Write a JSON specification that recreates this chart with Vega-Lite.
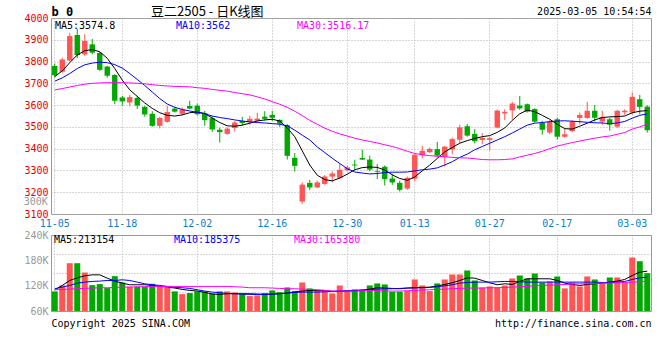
{
"$schema": "https://vega.github.io/schema/vega-lite/v6.json",
"background": "#ffffff",
"padding": {"left": 23, "top": 4, "right": 0, "bottom": 0},
"bounds": "flush",
"spacing": 21,
"datasets": {"k": [
{"d":"11-05","o":3780,"h":3790,"l":3726,"c":3737,"m5":3731,"m10":3710,"m30":3670,"v":106400,"v5":110300,"v10":112700,"v30":110300},
{"d":"11-06","o":3753,"h":3818,"l":3748,"c":3810,"m5":3757,"m10":3725,"m30":3676,"v":120500,"v5":120500,"v10":116600,"v30":111100},
{"d":"11-07","o":3805,"h":3932,"l":3800,"c":3917,"m5":3795,"m10":3745,"m30":3683,"v":173200,"v5":132300,"v10":120500,"v30":111900},
{"d":"11-08","o":3922,"h":3950,"l":3815,"c":3830,"m5":3830,"m10":3768,"m30":3690,"v":173200,"v5":138600,"v10":126000,"v30":112700},
{"d":"11-11","o":3833,"h":3925,"l":3826,"c":3895,"m5":3850,"m10":3785,"m30":3696,"v":151200,"v5":143300,"v10":128400,"v30":113500},
{"d":"11-12","o":3879,"h":3904,"l":3834,"c":3841,"m5":3855,"m10":3793,"m30":3700,"v":121300,"v5":145700,"v10":130000,"v30":114300},
{"d":"11-13","o":3840,"h":3845,"l":3757,"c":3762,"m5":3845,"m10":3797,"m30":3702,"v":123700,"v5":145700,"v10":130800,"v30":115100},
{"d":"11-14","o":3777,"h":3780,"l":3726,"c":3735,"m5":3815,"m10":3795,"m30":3703,"v":114300,"v5":137800,"v10":132300,"v30":115100},
{"d":"11-15","o":3738,"h":3742,"l":3604,"c":3620,"m5":3768,"m10":3786,"m30":3703,"v":142500,"v5":130800,"v10":132300,"v30":115800},
{"d":"11-18","o":3635,"h":3642,"l":3598,"c":3617,"m5":3715,"m10":3770,"m30":3703,"v":127600,"v5":126000,"v10":133900,"v30":116600},
{"d":"11-19","o":3612,"h":3647,"l":3595,"c":3637,"m5":3670,"m10":3745,"m30":3702,"v":117400,"v5":122100,"v10":132300,"v30":116600},
{"d":"11-20","o":3633,"h":3642,"l":3582,"c":3598,"m5":3640,"m10":3718,"m30":3700,"v":117400,"v5":122100,"v10":128400,"v30":117400},
{"d":"11-21","o":3592,"h":3596,"l":3547,"c":3557,"m5":3610,"m10":3690,"m30":3698,"v":117400,"v5":122100,"v10":124500,"v30":117400},
{"d":"11-22","o":3560,"h":3572,"l":3500,"c":3505,"m5":3585,"m10":3660,"m30":3694,"v":124500,"v5":120500,"v10":122100,"v30":118200},
{"d":"11-25","o":3505,"h":3546,"l":3493,"c":3541,"m5":3565,"m10":3630,"m30":3690,"v":117400,"v5":118200,"v10":120500,"v30":118200},
{"d":"11-26","o":3523,"h":3597,"l":3519,"c":3568,"m5":3553,"m10":3605,"m30":3688,"v":115100,"v5":116600,"v10":118200,"v30":118200},
{"d":"11-27","o":3584,"h":3592,"l":3566,"c":3570,"m5":3550,"m10":3590,"m30":3686,"v":106400,"v5":114300,"v10":115800,"v30":118200},
{"d":"11-28","o":3560,"h":3589,"l":3553,"c":3580,"m5":3555,"m10":3580,"m30":3685,"v":100100,"v5":111100,"v10":115100,"v30":118200},
{"d":"11-29","o":3596,"h":3620,"l":3581,"c":3584,"m5":3565,"m10":3573,"m30":3684,"v":102500,"v5":108800,"v10":113500,"v30":118200},
{"d":"12-02","o":3597,"h":3607,"l":3553,"c":3558,"m5":3568,"m10":3567,"m30":3680,"v":106400,"v5":107200,"v10":110300,"v30":118200},
{"d":"12-03","o":3563,"h":3574,"l":3505,"c":3531,"m5":3562,"m10":3560,"m30":3677,"v":106400,"v5":104100,"v10":107200,"v30":118200},
{"d":"12-04","o":3540,"h":3550,"l":3477,"c":3488,"m5":3540,"m10":3550,"m30":3672,"v":101700,"v5":100100,"v10":104800,"v30":118200},
{"d":"12-05","o":3487,"h":3496,"l":3428,"c":3476,"m5":3520,"m10":3543,"m30":3668,"v":106400,"v5":99300,"v10":103300,"v30":118200},
{"d":"12-06","o":3468,"h":3497,"l":3464,"c":3492,"m5":3505,"m10":3538,"m30":3664,"v":106400,"v5":100900,"v10":101700,"v30":118200},
{"d":"12-09","o":3495,"h":3527,"l":3478,"c":3520,"m5":3503,"m10":3532,"m30":3658,"v":104100,"v5":100900,"v10":100900,"v30":117400},
{"d":"12-10","o":3527,"h":3546,"l":3506,"c":3518,"m5":3508,"m10":3527,"m30":3652,"v":100900,"v5":100900,"v10":100100,"v30":116600},
{"d":"12-11","o":3522,"h":3551,"l":3510,"c":3537,"m5":3517,"m10":3523,"m30":3647,"v":95400,"v5":100900,"v10":99300,"v30":115100},
{"d":"12-12","o":3528,"h":3565,"l":3524,"c":3538,"m5":3527,"m10":3520,"m30":3638,"v":97000,"v5":100100,"v10":99300,"v30":115100},
{"d":"12-13","o":3547,"h":3572,"l":3528,"c":3537,"m5":3532,"m10":3518,"m30":3628,"v":102500,"v5":99300,"v10":99300,"v30":115100},
{"d":"12-16","o":3555,"h":3574,"l":3527,"c":3542,"m5":3535,"m10":3515,"m30":3616,"v":108800,"v5":100100,"v10":100100,"v30":114300},
{"d":"12-17","o":3532,"h":3535,"l":3500,"c":3515,"m5":3527,"m10":3512,"m30":3604,"v":104800,"v5":100900,"v10":100900,"v30":113500},
{"d":"12-18","o":3508,"h":3513,"l":3350,"c":3367,"m5":3495,"m10":3505,"m30":3590,"v":115800,"v5":102500,"v10":102500,"v30":112700},
{"d":"12-19","o":3358,"h":3380,"l":3295,"c":3321,"m5":3455,"m10":3485,"m30":3572,"v":107200,"v5":104800,"v10":104100,"v30":112700},
{"d":"12-20","o":3157,"h":3245,"l":3147,"c":3235,"m5":3390,"m10":3462,"m30":3552,"v":127600,"v5":107200,"v10":104800,"v30":111900},
{"d":"12-23","o":3243,"h":3256,"l":3210,"c":3222,"m5":3325,"m10":3440,"m30":3530,"v":113500,"v5":108800,"v10":104800,"v30":111100},
{"d":"12-24","o":3222,"h":3253,"l":3218,"c":3245,"m5":3278,"m10":3408,"m30":3512,"v":108000,"v5":108800,"v10":104800,"v30":110300},
{"d":"12-25","o":3238,"h":3279,"l":3234,"c":3272,"m5":3258,"m10":3382,"m30":3494,"v":108000,"v5":108800,"v10":105600,"v30":108800},
{"d":"12-26","o":3272,"h":3296,"l":3245,"c":3286,"m5":3252,"m10":3356,"m30":3480,"v":101700,"v5":106400,"v10":106400,"v30":107200},
{"d":"12-27","o":3266,"h":3330,"l":3260,"c":3303,"m5":3265,"m10":3332,"m30":3468,"v":120500,"v5":106400,"v10":107200,"v30":107200},
{"d":"12-30","o":3301,"h":3322,"l":3296,"c":3314,"m5":3283,"m10":3308,"m30":3458,"v":107200,"v5":107200,"v10":108000,"v30":107200},
{"d":"12-31","o":3327,"h":3349,"l":3302,"c":3323,"m5":3303,"m10":3293,"m30":3448,"v":111100,"v5":108000,"v10":108800,"v30":107200},
{"d":"01-02","o":3357,"h":3395,"l":3348,"c":3350,"m5":3313,"m10":3288,"m30":3440,"v":111100,"v5":108800,"v10":109600,"v30":108000},
{"d":"01-03","o":3350,"h":3368,"l":3296,"c":3304,"m5":3316,"m10":3284,"m30":3433,"v":120500,"v5":111900,"v10":110300,"v30":108800},
{"d":"01-06","o":3297,"h":3329,"l":3260,"c":3294,"m5":3314,"m10":3286,"m30":3426,"v":125300,"v5":115100,"v10":111900,"v30":108800},
{"d":"01-07","o":3317,"h":3323,"l":3231,"c":3260,"m5":3302,"m10":3290,"m30":3418,"v":122900,"v5":114300,"v10":112700,"v30":107200},
{"d":"01-08","o":3263,"h":3285,"l":3234,"c":3245,"m5":3280,"m10":3292,"m30":3410,"v":105600,"v5":113500,"v10":112700,"v30":107200},
{"d":"01-09","o":3243,"h":3253,"l":3203,"c":3211,"m5":3263,"m10":3292,"m30":3400,"v":105600,"v5":112700,"v10":113500,"v30":107200},
{"d":"01-10","o":3217,"h":3272,"l":3211,"c":3266,"m5":3255,"m10":3293,"m30":3388,"v":107200,"v5":114300,"v10":114300,"v30":108000},
{"d":"01-13","o":3262,"h":3378,"l":3252,"c":3372,"m5":3270,"m10":3298,"m30":3378,"v":134700,"v5":115100,"v10":115100,"v30":108800},
{"d":"01-14","o":3370,"h":3413,"l":3355,"c":3390,"m5":3298,"m10":3303,"m30":3372,"v":120500,"v5":115800,"v10":115100,"v30":109600},
{"d":"01-15","o":3384,"h":3405,"l":3380,"c":3399,"m5":3325,"m10":3306,"m30":3368,"v":107200,"v5":116600,"v10":115800,"v30":110300},
{"d":"01-16","o":3398,"h":3431,"l":3360,"c":3368,"m5":3355,"m10":3312,"m30":3365,"v":125300,"v5":119000,"v10":117400,"v30":111100},
{"d":"01-17","o":3362,"h":3412,"l":3318,"c":3409,"m5":3385,"m10":3325,"m30":3363,"v":134700,"v5":122900,"v10":119800,"v30":111900},
{"d":"01-20","o":3397,"h":3451,"l":3374,"c":3444,"m5":3405,"m10":3340,"m30":3360,"v":146500,"v5":126800,"v10":122100,"v30":112700},
{"d":"01-21","o":3441,"h":3510,"l":3425,"c":3498,"m5":3425,"m10":3360,"m30":3358,"v":146500,"v5":132300,"v10":126000,"v30":113500},
{"d":"01-22","o":3503,"h":3513,"l":3455,"c":3460,"m5":3437,"m10":3375,"m30":3357,"v":155900,"v5":138600,"v10":127600,"v30":114300},
{"d":"01-23","o":3468,"h":3490,"l":3424,"c":3434,"m5":3447,"m10":3395,"m30":3354,"v":132300,"v5":137800,"v10":128400,"v30":114300},
{"d":"01-24","o":3440,"h":3472,"l":3420,"c":3449,"m5":3455,"m10":3410,"m30":3350,"v":115800,"v5":132300,"v10":128400,"v30":114300},
{"d":"01-27","o":3440,"h":3453,"l":3392,"c":3448,"m5":3460,"m10":3425,"m30":3349,"v":118200,"v5":126800,"v10":128400,"v30":115100},
{"d":"02-05","o":3497,"h":3580,"l":3494,"c":3575,"m5":3475,"m10":3440,"m30":3349,"v":115800,"v5":122100,"v10":129200,"v30":115100},
{"d":"02-06","o":3562,"h":3581,"l":3531,"c":3569,"m5":3495,"m10":3455,"m30":3350,"v":120500,"v5":124500,"v10":130000,"v30":115800},
{"d":"02-07","o":3576,"h":3616,"l":3533,"c":3607,"m5":3530,"m10":3472,"m30":3353,"v":137000,"v5":122900,"v10":130000,"v30":116600},
{"d":"02-10","o":3598,"h":3642,"l":3578,"c":3585,"m5":3560,"m10":3490,"m30":3362,"v":144100,"v5":130000,"v10":129200,"v30":117400},
{"d":"02-11","o":3604,"h":3607,"l":3566,"c":3570,"m5":3577,"m10":3508,"m30":3370,"v":137000,"v5":136300,"v10":128400,"v30":118200},
{"d":"02-12","o":3582,"h":3586,"l":3520,"c":3524,"m5":3570,"m10":3517,"m30":3378,"v":148800,"v5":136300,"v10":128400,"v30":119800},
{"d":"02-13","o":3518,"h":3528,"l":3464,"c":3487,"m5":3553,"m10":3520,"m30":3388,"v":127600,"v5":136300,"v10":128400,"v30":120500},
{"d":"02-14","o":3474,"h":3531,"l":3467,"c":3524,"m5":3535,"m10":3524,"m30":3400,"v":130000,"v5":136300,"v10":128400,"v30":121300},
{"d":"02-17","o":3535,"h":3542,"l":3442,"c":3455,"m5":3512,"m10":3527,"m30":3412,"v":141800,"v5":132300,"v10":128400,"v30":122100},
{"d":"02-18","o":3455,"h":3490,"l":3451,"c":3466,"m5":3492,"m10":3528,"m30":3420,"v":113500,"v5":126000,"v10":128400,"v30":122900},
{"d":"02-19","o":3481,"h":3531,"l":3475,"c":3524,"m5":3490,"m10":3526,"m30":3428,"v":127600,"v5":122900,"v10":128400,"v30":123700},
{"d":"02-20","o":3541,"h":3566,"l":3511,"c":3555,"m5":3503,"m10":3524,"m30":3435,"v":118200,"v5":120500,"v10":128400,"v30":124500},
{"d":"02-21","o":3541,"h":3615,"l":3537,"c":3574,"m5":3517,"m10":3521,"m30":3442,"v":141800,"v5":122900,"v10":128400,"v30":124500},
{"d":"02-24","o":3574,"h":3601,"l":3524,"c":3542,"m5":3532,"m10":3519,"m30":3448,"v":134700,"v5":124500,"v10":128400,"v30":125300},
{"d":"02-25","o":3524,"h":3574,"l":3509,"c":3546,"m5":3543,"m10":3518,"m30":3454,"v":125300,"v5":126000,"v10":127600,"v30":126000},
{"d":"02-26","o":3535,"h":3542,"l":3482,"c":3510,"m5":3546,"m10":3515,"m30":3458,"v":139400,"v5":128400,"v10":126800,"v30":126000},
{"d":"02-27","o":3501,"h":3578,"l":3495,"c":3574,"m5":3547,"m10":3518,"m30":3466,"v":139400,"v5":130800,"v10":128400,"v30":126800},
{"d":"02-28","o":3567,"h":3581,"l":3556,"c":3574,"m5":3550,"m10":3525,"m30":3474,"v":127600,"v5":134700,"v10":130000,"v30":127600},
{"d":"03-03","o":3566,"h":3658,"l":3556,"c":3638,"m5":3565,"m10":3540,"m30":3490,"v":186500,"v5":144100,"v10":134700,"v30":128400},
{"d":"03-04","o":3627,"h":3647,"l":3558,"c":3592,"m5":3572,"m10":3553,"m30":3500,"v":177900,"v5":152000,"v10":138600,"v30":129200},
{"d":"03-05","o":3593,"h":3600,"l":3474,"c":3485,"m5":3575,"m10":3560,"m30":3512,"v":149600,"v5":154300,"v10":140200,"v30":130000}
]},
"resolve": {"scale": {"color": "independent", "x": "independent", "y": "independent"}, "legend": {"color": "independent"}},
"config": {
  "view": {"stroke": "#999999", "strokeWidth": 1},
  "axis": {"labelFont": "DejaVu Sans Mono", "labelFontSize": 10, "ticks": false, "domain": false, "gridColor": "#b0b0b0", "gridDash": [1, 2], "gridWidth": 1, "titleFont": "DejaVu Sans Mono", "titleFontSize": 10, "titleFontWeight": "normal", "titleColor": "#000000"},
  "legend": {"labelFont": "DejaVu Sans Mono", "labelFontSize": 10, "symbolSize": 0, "symbolStrokeWidth": 0, "symbolOpacity": 0, "labelOffset": 0, "padding": 0, "gridAlign": "all"}
},
"vconcat": [
{
  "width": 600, "height": 196,
  "data": {"name": "k"},
  "title": {"text": "豆二2505 - 日K线图", "anchor": "start", "frame": "group", "dx": 100, "offset": -14, "font": "Noto Sans CJK SC", "fontSize": 13, "fontWeight": "normal", "color": "#000000"},
  "encoding": {"x": {"field": "d", "type": "ordinal", "sort": null, "scale": {"type": "band", "paddingInner": 0, "paddingOuter": 0},
    "axis": {"values": ["11-05","11-18","12-02","12-16","12-30","01-13","01-27","02-17","03-03"], "labelColor": "#0a7fd0", "labelPadding": 4, "labelAngle": 0, "grid": true, "title": null, "bandPosition": 0.5}}},
  "layer": [
    {"mark": {"type": "rule", "strokeWidth": 1},
     "encoding": {
       "y": {"field": "l", "type": "quantitative", "scale": {"domain": [3100, 4000], "nice": false, "zero": false},
             "axis": {"values": [3100,3200,3300,3400,3500,3600,3700,3800,3900,4000], "format": "d", "labelColor": "#e60000", "labelPadding": 3, "grid": true,
                      "title": "b 0", "titleAngle": 0, "titleX": 0, "titleY": -7, "titleAlign": "left", "titleBaseline": "middle", "titleFontWeight": "bold", "titleFontSize": 12}},
       "y2": {"field": "h"},
       "color": {"condition": {"test": "datum.c >= datum.o", "value": "#ff5555"}, "value": "#00a800"}}},
    {"mark": {"type": "bar", "width": {"band": 0.72}},
     "encoding": {
       "y": {"field": "o", "type": "quantitative", "axis": null},
       "y2": {"field": "c"},
       "color": {"condition": {"test": "datum.c >= datum.o", "value": "#ff5555"}, "value": "#00a800"}}},
    {"transform": [{"fold": ["m5", "m10", "m30"], "as": ["key", "val"]}],
     "mark": {"type": "line", "strokeWidth": 1},
     "encoding": {
       "y": {"field": "val", "type": "quantitative",
             "axis": {"orient": "right", "labels": false, "grid": false, "title": "2025-03-05 10:54:54", "titleAngle": 0, "titleX": 0, "titleY": -7, "titleAlign": "right", "titleBaseline": "middle"}},
       "order": {"value": null},
       "color": {"field": "key", "type": "nominal", "scale": {"domain": ["m5", "m10", "m30"], "range": ["#000000", "#0000ff", "#ff00ff"]},
                 "legend": {"orient": "none", "legendX": -6, "legendY": 3, "direction": "horizontal", "title": null, "columnPadding": 38,
                            "labelExpr": "datum.value === 'm5' ? 'MA5:3574.8' : datum.value === 'm10' ? 'MA10:3562' : 'MA30:3516.17'",
                            "encode": {"labels": {"update": {"fill": {"signal": "datum.value === 'm5' ? '#000000' : datum.value === 'm10' ? '#0000ff' : '#ff00ff'"}}}}}}}}
  ],
  "resolve": {"axis": {"y": "independent"}}
},
{
  "width": 600, "height": 76,
  "data": {"name": "k"},
  "encoding": {"x": {"field": "d", "type": "ordinal", "sort": null, "scale": {"type": "band", "paddingInner": 0, "paddingOuter": 0},
    "axis": {"values": ["11-05","11-18","12-02","12-16","12-30","01-13","01-27","02-17","03-03"], "labels": false, "grid": true, "bandPosition": 0.5,
             "title": "Copyright 2025 SINA.COM", "titleX": 0, "titleY": 12, "titleAlign": "left", "titleBaseline": "middle", "titleAnchor": "start"}}},
  "layer": [
    {"mark": {"type": "bar", "width": {"band": 0.8}},
     "encoding": {
       "y": {"field": "v", "type": "quantitative", "scale": {"domain": [60000, 240000], "nice": false, "zero": false},
             "axis": {"values": [60000, 120000, 180000, 240000], "labelExpr": "(datum.value / 1000) + 'K'", "labelColor": "#999999", "labelPadding": 3, "grid": false, "title": null}},
       "y2": {"datum": 60000},
       "color": {"condition": {"test": "datum.c >= datum.o", "value": "#ff5555"}, "value": "#00a800"}}},
    {"transform": [{"fold": ["v5", "v10", "v30"], "as": ["vk", "vv"]}],
     "mark": {"type": "line", "strokeWidth": 1},
     "encoding": {
       "y": {"field": "vv", "type": "quantitative",
             "axis": {"orient": "right", "values": [105000, 150000, 195000], "labels": false, "grid": true,
                      "title": "http://finance.sina.com.cn", "titleAngle": 0, "titleX": 0, "titleY": 88, "titleAlign": "right", "titleBaseline": "middle"}},
       "order": {"value": null},
       "color": {"field": "vk", "type": "nominal", "scale": {"domain": ["v5", "v10", "v30"], "range": ["#000000", "#0000ff", "#ff00ff"]},
                 "legend": {"orient": "none", "legendX": -7, "legendY": 0, "direction": "horizontal", "title": null, "columnPadding": 43,
                            "labelExpr": "datum.value === 'v5' ? 'MA5:213154' : datum.value === 'v10' ? 'MA10:185375' : 'MA30:165380'",
                            "encode": {"labels": {"update": {"fill": {"signal": "datum.value === 'v5' ? '#000000' : datum.value === 'v10' ? '#0000ff' : '#ff00ff'"}}}}}}}},
    {"transform": [{"filter": "datum.d === '11-05'"}],
     "mark": {"type": "text", "align": "right", "baseline": "middle", "font": "DejaVu Sans Mono", "fontSize": 10, "color": "#999999", "dx": -7, "dy": -8},
     "encoding": {"y": {"datum": 300000, "axis": null}, "text": {"value": "300K"}}}
  ],
  "resolve": {"axis": {"y": "independent"}}
}
]
}
